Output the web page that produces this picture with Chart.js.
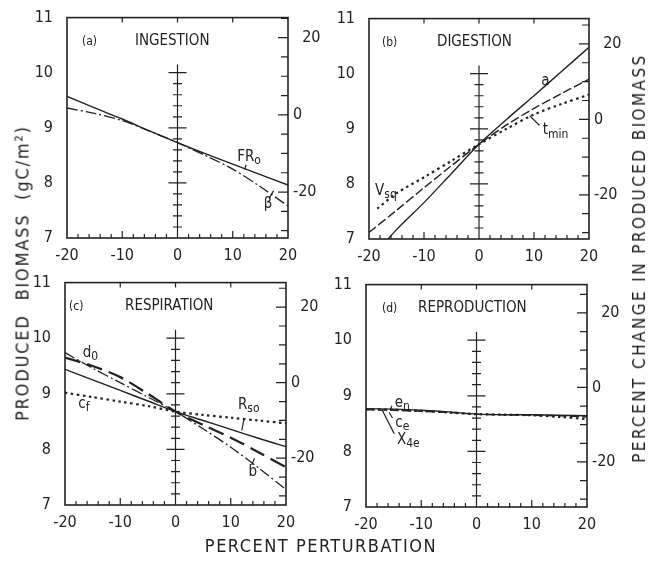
<!DOCTYPE html>
<html>
<head>
<meta charset="utf-8">
<script src="https://cdn.jsdelivr.net/npm/chart.js"></script>
<style>
  body { margin: 0; background: #fff; }
  #page { position: relative; width: 649px; height: 561px; overflow: hidden; background: #fff; }
  #page canvas { position: absolute; }
  .axis-title {
    position: absolute; color: #222; white-space: pre;
    font-family: "DejaVu Sans Condensed", "DejaVu Sans", sans-serif;
    transform: translate(-50%, -50%);
  }
  .vertical { transform: translate(-50%, -50%) rotate(-90deg); }
</style>
</head>
<body>
<div id="page">
  <canvas id="panelA"></canvas>
  <canvas id="panelB"></canvas>
  <canvas id="panelC"></canvas>
  <canvas id="panelD"></canvas>
  <div class="axis-title vertical" style="left:22px; top:273px; font-size:18px; letter-spacing:1.8px;">PRODUCED  BIOMASS  (gC/m²)</div>
  <div class="axis-title vertical" style="left:639px; top:258px; font-size:17px; letter-spacing:2.4px;">PERCENT CHANGE IN PRODUCED BIOMASS</div>
  <div class="axis-title" style="left:321px; top:545px; font-size:18px; letter-spacing:1.5px;">PERCENT PERTURBATION</div>
</div>
<script>
const INK = '#222';
const FONT = '"DejaVu Sans Condensed", "DejaVu Sans", sans-serif';

// percent perturbation of each parameter
const pertSteps = [-20, -15, -10, -5, 0, 5, 10, 15, 20];
const vsqSteps = [-18.5, -15, -10, -5, 0, 5, 10, 15, 20];
const biomassTicks = [7, 8, 9, 10, 11];
const percentLabels = [-20, 0, 20];

// (a) ingestion
const ingestFR0 = [9.57, 9.36, 9.16, 8.94, 8.73, 8.53, 8.34, 8.15, 7.96];
const ingestBeta = [9.36, 9.26, 9.13, 8.94, 8.73, 8.50, 8.25, 7.93, 7.58];

// (b) digestion
const digestA = [6.60, 7.17, 7.66, 8.19, 8.72, 9.17, 9.60, 10.04, 10.48];
const digestDash = [7.12, 7.52, 7.93, 8.33, 8.72, 9.07, 9.37, 9.64, 9.90];
const digestVsq = [7.55, 7.83, 8.12, 8.42, 8.72, 9.00, 9.26, 9.45, 9.62];

// (c) respiration
const respB = [9.74, 9.46, 9.20, 8.94, 8.68, 8.37, 8.04, 7.67, 7.28];
const respD0 = [9.65, 9.50, 9.30, 9.00, 8.68, 8.44, 8.21, 7.95, 7.68];
const respRso = [9.44, 9.25, 9.06, 8.87, 8.68, 8.52, 8.36, 8.20, 8.05];
const respCf = [9.02, 8.94, 8.86, 8.78, 8.68, 8.62, 8.57, 8.52, 8.47];

// (d) reproduction
const reproEn = [8.77, 8.76, 8.74, 8.71, 8.67, 8.66, 8.66, 8.65, 8.64];
const reproCe = [8.75, 8.74, 8.72, 8.70, 8.67, 8.66, 8.65, 8.64, 8.62];
const reproX4e = [8.76, 8.75, 8.73, 8.70, 8.67, 8.66, 8.65, 8.62, 8.58];

const SOLID = { dash: [], width: 1.4 };
const DASHED = { dash: [9, 3], width: 1.4 };
const DASHDOT = { dash: [11, 3, 2, 3], width: 1.3 };
const HEAVY = { dash: [16, 7], width: 2.3 };
const DOTTED = { dash: [2.5, 3.5], width: 2.2 };

const panels = [
  {
    id: 'panelA', box: [67, 18, 288, 238], pct: [-31.9, 25.2],
    tag: '(a)', tagDx: 15, title: 'INGESTION', titleDx: 68, titleDy: 24,
    series: [
      { xs: pertSteps, ys: ingestFR0, style: SOLID },
      { xs: pertSteps, ys: ingestBeta, style: DASHDOT }
    ],
    labels: [
      { x: 10.8, y: 8.47, text: 'FR', sub: 'o' },
      { x: 15.6, y: 7.62, text: 'β', sub: '' }
    ],
    leaders: [[12.4, 8.33, 12.2, 8.24], [16.6, 7.72, 17.4, 7.86]]
  },
  {
    id: 'panelB', box: [369, 19, 589, 239], pct: [-31.7, 26.7],
    tag: '(b)', tagDx: 13, title: 'DIGESTION', titleDx: 68, titleDy: 24,
    series: [
      { xs: pertSteps, ys: digestA, style: SOLID },
      { xs: pertSteps, ys: digestDash, style: DASHED },
      { xs: vsqSteps, ys: digestVsq, style: DOTTED }
    ],
    labels: [
      { x: 11.3, y: 9.86, text: 'a', sub: '' },
      { x: 11.6, y: 8.97, text: 't', sub: 'min' },
      { x: -18.9, y: 7.87, text: 'V', sub: 'sq' }
    ],
    leaders: [[9.2, 9.24, 11.0, 9.06]]
  },
  {
    id: 'panelC', box: [65, 283, 286, 505], pct: [-32.4, 26.5],
    tag: '(c)', tagDx: 4, title: 'RESPIRATION', titleDx: 60, titleDy: 24,
    series: [
      { xs: pertSteps, ys: respB, style: DASHDOT },
      { xs: pertSteps, ys: respD0, style: HEAVY },
      { xs: pertSteps, ys: respRso, style: SOLID },
      { xs: pertSteps, ys: respCf, style: DOTTED }
    ],
    labels: [
      { x: -16.8, y: 9.74, text: 'd', sub: '0' },
      { x: -17.6, y: 8.82, text: 'c', sub: 'f' },
      { x: 11.3, y: 8.8, text: 'R', sub: 'so' },
      { x: 13.2, y: 7.6, text: 'b', sub: '' }
    ],
    leaders: [[12.4, 8.55, 12.0, 8.34], [13.8, 7.72, 14.3, 7.84]]
  },
  {
    id: 'panelD', box: [366, 285, 587, 507], pct: [-32.1, 27.6],
    tag: '(d)', tagDx: 16, title: 'REPRODUCTION', titleDx: 52, titleDy: 24,
    series: [
      { xs: pertSteps, ys: reproEn, style: SOLID },
      { xs: pertSteps, ys: reproCe, style: DASHED },
      { xs: pertSteps, ys: reproX4e, style: DOTTED }
    ],
    labels: [
      { x: -14.8, y: 8.87, text: 'e', sub: 'n' },
      { x: -14.7, y: 8.51, text: 'c', sub: 'e' },
      { x: -14.4, y: 8.2, text: 'X', sub: '4e' }
    ],
    leaders: [[-15.3, 8.82, -15.6, 8.75], [-15.2, 8.6, -15.8, 8.7], [-17.1, 8.75, -14.9, 8.32]]
  }
];

function drawLabel(ctx, px, py, text, sub) {
  ctx.font = '15px ' + FONT;
  ctx.textAlign = 'left';
  ctx.textBaseline = 'middle';
  ctx.fillText(text, px, py);
  if (sub) {
    const w = ctx.measureText(text).width;
    ctx.font = '12px ' + FONT;
    ctx.fillText(sub, px + w, py + 4);
  }
}

// frame, inward ticks, the cross axis at zero perturbation and the annotations
const frameAndMarks = {
  id: 'frameAndMarks',
  afterDatasetsDraw(chart, args, opts) {
    const spec = opts.spec;
    const { ctx, chartArea: a } = chart;
    const { x, y, y2 } = chart.scales;
    ctx.save();
    ctx.strokeStyle = INK;
    ctx.fillStyle = INK;
    ctx.lineWidth = 1.6;
    ctx.strokeRect(a.left, a.top, a.width, a.height);

    ctx.lineWidth = 1.2;
    ctx.beginPath();
    for (let v = -18; v <= 18; v += 2) {
      const px = x.getPixelForValue(v);
      const len = v % 10 === 0 ? 7 : 4;
      ctx.moveTo(px, a.bottom);
      ctx.lineTo(px, a.bottom - len);
    }
    for (const v of [-10, 0, 10]) {
      const px = x.getPixelForValue(v);
      ctx.moveTo(px, a.top);
      ctx.lineTo(px, a.top + 5);
    }
    for (let v = -30; v <= 25; v += 5) {
      const py = y2.getPixelForValue(v);
      const len = percentLabels.includes(v) ? 10 : 7;
      ctx.moveTo(a.right, py);
      ctx.lineTo(a.right - len, py);
    }
    const cx = x.getPixelForValue(0);
    ctx.moveTo(cx, y.getPixelForValue(10.15));
    ctx.lineTo(cx, a.bottom);
    for (let k = 36; k <= 50; k++) {
      const v = k / 5;
      const py = y.getPixelForValue(v);
      const half = k % 5 === 0 ? 9 : 4.5;
      ctx.moveTo(cx - half, py);
      ctx.lineTo(cx + half, py);
    }
    for (const [x1, y1, x2, y2v] of spec.leaders) {
      ctx.moveTo(x.getPixelForValue(x1), y.getPixelForValue(y1));
      ctx.lineTo(x.getPixelForValue(x2), y.getPixelForValue(y2v));
    }
    ctx.stroke();

    ctx.textBaseline = 'middle';
    ctx.textAlign = 'left';
    ctx.font = '12px ' + FONT;
    ctx.fillText(spec.tag, a.left + spec.tagDx, a.top + spec.titleDy);
    ctx.font = '15px ' + FONT;
    ctx.fillText(spec.title, a.left + spec.titleDx, a.top + spec.titleDy);

    for (const lab of spec.labels) {
      drawLabel(ctx, x.getPixelForValue(lab.x), y.getPixelForValue(lab.y), lab.text, lab.sub);
    }
    ctx.restore();
  }
};

function makePanel(spec) {
  const [l, t, r, b] = spec.box;
  // the left axis reserves half a label plus its tick padding above the plot
  const yW = 60, y2W = 42, xH = 34, topRoom = 24;
  const canvas = document.getElementById(spec.id);
  const cl = l - yW, ct = t - topRoom;
  canvas.width = r + y2W - cl;
  canvas.height = b + xH - ct;
  canvas.style.left = cl + 'px';
  canvas.style.top = ct + 'px';

  const tickFont = { family: FONT, size: 16 };
  const noGrid = { display: false, drawTicks: false };

  new Chart(canvas.getContext('2d'), {
    type: 'line',
    data: {
      datasets: spec.series.map(s => ({
        data: s.xs.map((xv, i) => ({ x: xv, y: s.ys[i] })),
        borderColor: INK,
        borderWidth: s.style.width,
        borderDash: s.style.dash,
        pointRadius: 0,
        tension: 0.3,
        fill: false
      }))
    },
    options: {
      responsive: false,
      animation: false,
      events: [],
      layout: { padding: 0 },
      plugins: {
        legend: { display: false },
        tooltip: { enabled: false },
        frameAndMarks: { spec: spec }
      },
      scales: {
        x: {
          type: 'linear', min: -20, max: 20,
          ticks: { stepSize: 10, padding: 8, color: INK, font: tickFont, maxRotation: 0 },
          grid: noGrid, border: { display: false },
          afterFit(s) { s.height = xH; }
        },
        y: {
          type: 'linear', min: biomassTicks[0], max: biomassTicks[biomassTicks.length - 1],
          ticks: { stepSize: 1, padding: 14, color: INK, font: tickFont },
          grid: noGrid, border: { display: false },
          afterFit(s) { s.width = yW; }
        },
        y2: {
          type: 'linear', position: 'right', min: spec.pct[0], max: spec.pct[1],
          ticks: {
            stepSize: 5, padding: 5, color: INK, font: tickFont, autoSkip: false,
            callback: v => {
              if (!percentLabels.includes(v)) return '';
              return v === 20 ? '\u2007' + v : String(v);
            }
          },
          grid: noGrid, border: { display: false },
          afterFit(s) { s.width = y2W; }
        }
      }
    },
    plugins: [frameAndMarks]
  });
}

panels.forEach(makePanel);
</script>
</body>
</html>
